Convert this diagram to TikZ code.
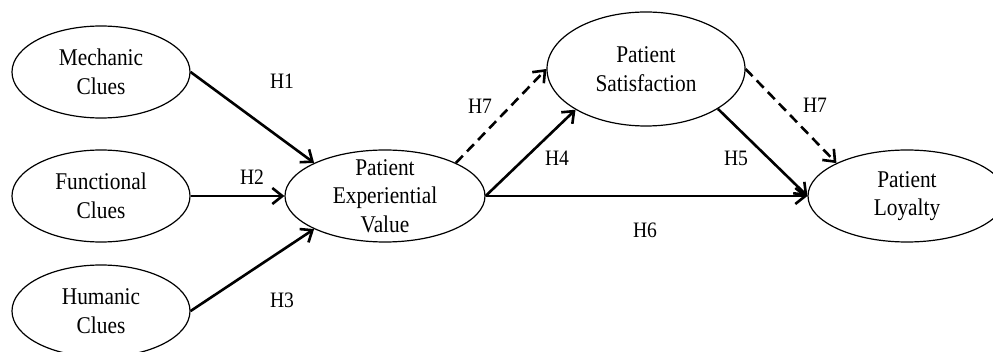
\documentclass[tikz,border=0pt]{standalone}
\usepackage{fontspec}
\setmainfont{Liberation Serif}[FakeStretch=0.89]
\usetikzlibrary{shapes.geometric,arrows.meta}
\tikzset{
  ell/.style={draw, ellipse, line width=1.2pt, inner sep=0pt},
  etxt/.style={align=center, font=\fontsize{24}{28.5}\selectfont, inner sep=0pt},
  hlab/.style={font=\fontsize{22}{24}\selectfont, inner sep=0pt},
  conn/.style={line width=2.6pt, -{Straight Barb[length=10pt,width=16pt,line width=2.6pt]}},
  dconn/.style={conn, dash pattern=on 10pt off 6pt}
}
\begin{document}
\begin{tikzpicture}[x=1pt,y=-1pt]
\useasboundingbox (0,0) rectangle (993,352);
\node[ell, minimum width=178pt, minimum height=92pt, label={[etxt]center:Mechanic\\Clues}] (mc) at (101,72) {};
\node[ell, minimum width=178pt, minimum height=92pt, label={[etxt]center:Functional\\Clues}] (fc) at (101,196) {};
\node[ell, minimum width=178pt, minimum height=92pt, label={[etxt]center:Humanic\\Clues}] (hc) at (101,311) {};
\node[ell, minimum width=200pt, minimum height=92pt, label={[etxt]center:Patient\\Experiential\\Value}] (pev) at (385,196) {};
\node[ell, minimum width=198pt, minimum height=114pt, label={[etxt]center:Patient\\Satisfaction}] (ps) at (646,69) {};
\node[ell, minimum width=198pt, minimum height=92pt, label={[etxt]center:Patient\\Loyalty}] (pl) at (907,196) {};

\draw[conn] (mc.east) -- (pev.155);
\draw[conn] (fc.east) -- (pev.west);
\draw[conn] (hc.east) -- (pev.205);
\draw[dconn] (pev.25) -- (ps.west);
\draw[conn] (pev.east) -- (ps.210);
\draw[conn] (ps.331) -- (pl.west);
\draw[dconn] (ps.east) -- (pl.155);
\draw[conn] (pev.east) -- (pl.west);

\node[hlab] (h1) at (282,81) {H1};
\node[hlab] (h2) at (252,177) {H2};
\node[hlab] (h3) at (282,300) {H3};
\node[hlab] (h7a) at (480,106) {H7};
\node[hlab] (h4) at (557,158) {H4};
\node[hlab] (h5) at (736,158) {H5};
\node[hlab] (h7b) at (815,105) {H7};
\node[hlab] (h6) at (645,230) {H6};
\end{tikzpicture}
\end{document}
